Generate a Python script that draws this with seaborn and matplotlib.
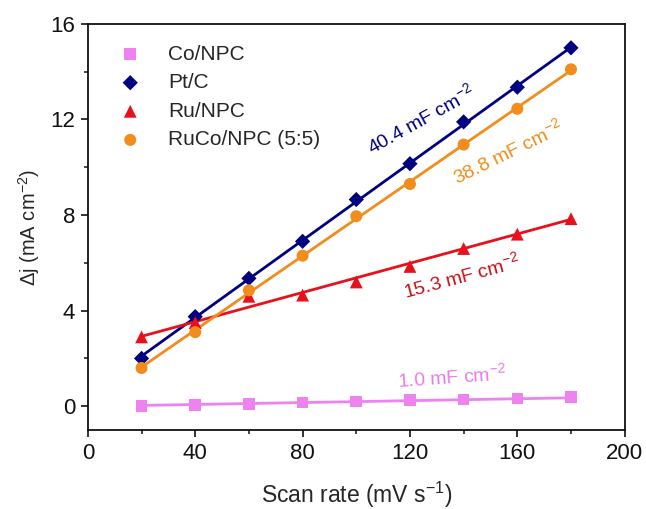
import numpy as np
import pandas as pd
import matplotlib
matplotlib.use("Agg")
import matplotlib.pyplot as plt
import seaborn as sns
from matplotlib.ticker import MultipleLocator

sns.set_theme(style="ticks")
plt.rcParams["font.family"] = ["Liberation Sans", "DejaVu Sans"]
plt.rcParams["mathtext.fontset"] = "custom"
plt.rcParams["mathtext.rm"] = "Liberation Sans"
plt.rcParams["mathtext.it"] = "Liberation Sans:italic"

# Scan rates (mV s^-1) and current-density differences (mA cm^-2)
scan_rate = [20, 40, 60, 80, 100, 120, 140, 160, 180]
samples = ["Co/NPC", "Pt/C", "Ru/NPC", "RuCo/NPC (5:5)"]
dj_co = [0.00, 0.05, 0.10, 0.15, 0.20, 0.25, 0.28, 0.32, 0.38]
dj_pt = [2.00, 3.75, 5.35, 6.90, 8.65, 10.15, 11.90, 13.35, 15.00]
dj_ru = [2.90, 3.50, 4.60, 4.65, 5.20, 5.85, 6.60, 7.20, 7.85]
dj_ruco = [1.60, 3.10, 4.85, 6.30, 7.95, 9.30, 10.95, 12.45, 14.10]
# Double-layer capacitance (mF cm^-2) for each sample
cdl = [1.0, 40.4, 15.3, 38.8]

colors = ["#ee82ee", "#000080", "#e8101a", "#f28c1c"]
label_colors = ["#e67fe6", "#000080", "#c8101a", "#f28c1c"]
markers = ["s", "D", "^", "o"]
msizes = [70, 60, 85, 75]

series = [dj_co, dj_pt, dj_ru, dj_ruco]
df = pd.DataFrame({
    "scan": scan_rate * 4,
    "dj": sum(series, []),
    "sample": sum([[s] * len(scan_rate) for s in samples], []),
})

# Linear fits: slope of delta-j vs scan rate equals 2*Cdl
fit_rows = []
for s, y, c in zip(samples, series, cdl):
    slope = 2 * c / 1000.0
    intercept = np.mean(y) - slope * np.mean(scan_rate)
    for x in (scan_rate[0], scan_rate[-1]):
        fit_rows.append({"scan": x, "dj": intercept + slope * x, "sample": s})
fit_df = pd.DataFrame(fit_rows)

fig = plt.figure(figsize=(6.46, 5.09), dpi=100)
ax = fig.add_axes([0.136, 0.155, 0.831, 0.798])

palette = dict(zip(samples, colors))
sns.lineplot(data=fit_df, x="scan", y="dj", hue="sample", palette=palette,
             linewidth=2, legend=False, ax=ax)
for s, m, ms in zip(samples, markers, msizes):
    sub = df[df["sample"] == s]
    sns.scatterplot(data=sub, x="scan", y="dj", color=palette[s], marker=m,
                    s=ms, edgecolor="none", label=s, ax=ax, zorder=3)

ax.set_xlim(0, 200)
ax.set_ylim(-1, 16)
ax.xaxis.set_major_locator(MultipleLocator(40))
ax.xaxis.set_minor_locator(MultipleLocator(20))
ax.yaxis.set_major_locator(MultipleLocator(4))
ax.yaxis.set_minor_locator(MultipleLocator(2))
ax.tick_params(which="major", direction="out", length=5, width=1.2,
               labelsize=16, colors="#111111", top=False, right=False, pad=4)
ax.tick_params(which="minor", direction="out", length=3, width=1.2,
               top=False, right=False)
for sp in ax.spines.values():
    sp.set_linewidth(1.3)
    sp.set_color("#111111")

ax.set_xlabel(r"Scan rate (mV s$^{-1}$)", fontsize=16.5, labelpad=12)
ax.set_ylabel(r"$\Delta$j (mA cm$^{-2}$)", fontsize=14.5, labelpad=6)

leg = ax.legend(loc="upper left", bbox_to_anchor=(0.013, 0.985), frameon=False,
                fontsize=15, handletextpad=0.8, labelspacing=0.46,
                borderaxespad=0.3, markerscale=1.0)

# Capacitance annotations along the fits (x, y, rotation)
ann = [
    (1, 105.8, 10.55, 29),
    (3, 137.4, 9.30, 26),
    (2, 118.1, 4.52, 15),
    (0, 115.5, 0.80, 4),
]
for i, x, y, rot in ann:
    ax.text(x, y, f"{cdl[i]:.1f} mF cm$^{{-2}}$", color=label_colors[i],
            fontsize=14, rotation=rot, rotation_mode="anchor",
            ha="left", va="baseline")

fig.savefig("out.png", dpi=100)
